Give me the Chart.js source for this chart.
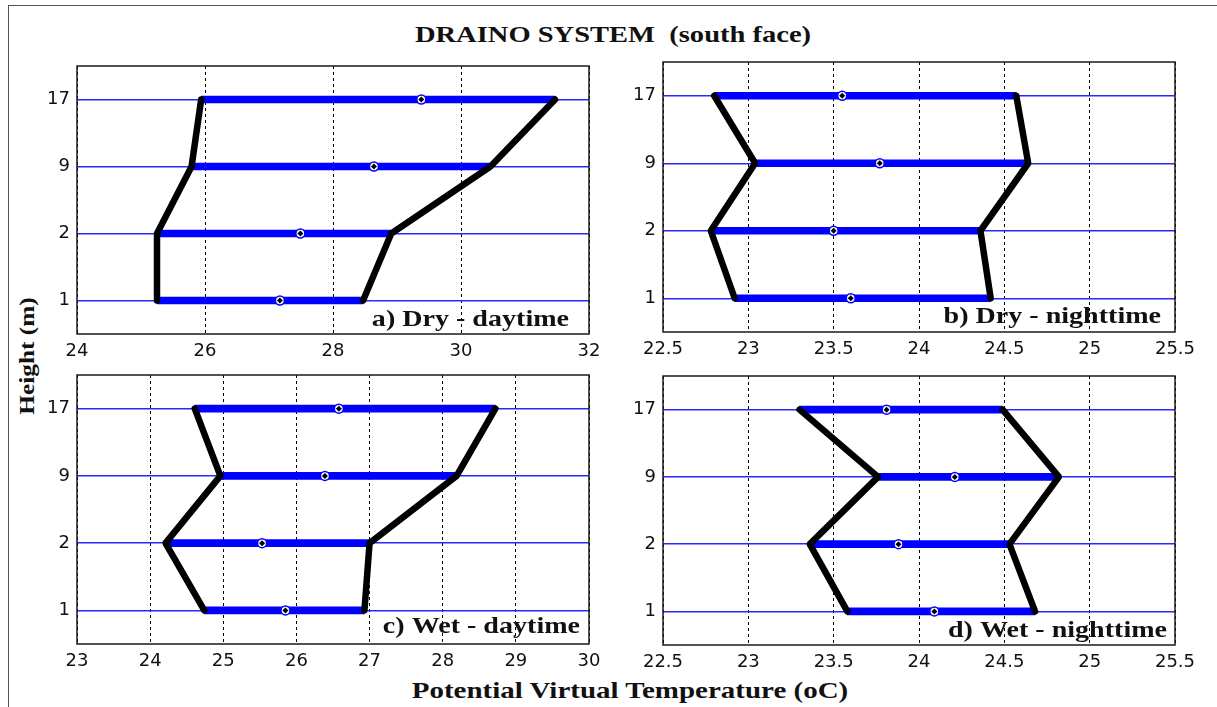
<!DOCTYPE html>
<html>
<head>
<meta charset="utf-8">
<script src="https://cdn.jsdelivr.net/npm/chart.js@4/dist/chart.umd.min.js"></script>
<style>
  body { margin: 0; background: #fff; }
  .page { position: relative; width: 1217px; height: 707px; overflow: hidden; background: #fff; }
  .frame { position: absolute; left: 8px; top: 5px; width: 1300px; height: 800px; border-left: 1px solid #555; border-top: 1px solid #555; }
  .panel { position: absolute; }
  .txt { position: absolute; font-family: "Liberation Serif", "Times New Roman", serif; font-weight: bold; color: #111; white-space: nowrap; text-align: center; }
</style>
</head>
<body>
<div class="page">
  <div class="frame"></div>
  <div class="txt" style="left:413px; width:400px; top:23px; font-size:23px; line-height:23px; transform:scaleX(1.24);">DRAINO SYSTEM&nbsp; (south face)</div>
  <div class="txt" style="left:-43px; top:344px; width:140px; height:24px; font-size:22px; line-height:24px; transform:rotate(-90deg) scaleX(1.15);">Height (m)</div>
  <div class="txt" style="left:380px; width:500px; top:679px; font-size:23px; line-height:23px; transform:scaleX(1.26);">Potential Virtual Temperature (oC)</div>
  <div class="panel" style="left:27px; top:44px; width:596px; height:320px;"><canvas id="chartA"></canvas></div>
  <div class="panel" style="left:613px; top:40px; width:596px; height:322px;"><canvas id="chartB"></canvas></div>
  <div class="panel" style="left:27px; top:353px; width:596px; height:321px;"><canvas id="chartC"></canvas></div>
  <div class="panel" style="left:613px; top:354px; width:596px; height:321px;"><canvas id="chartD"></canvas></div>
</div>
<script>
// heights of the sensors (m), bottom to top
const heights = ['1', '2', '9', '17'];

// a) Dry - daytime
const dryDayMin = [25.25, 25.25, 25.79, 25.94];
const dryDayMax = [28.47, 28.91, 30.46, 31.47];
const dryDayMean = [27.17, 27.49, 28.64, 29.38];

// b) Dry - nighttime
const dryNightMin = [22.92, 22.78, 23.04, 22.80];
const dryNightMax = [24.42, 24.36, 24.64, 24.57];
const dryNightMean = [23.60, 23.50, 23.77, 23.55];

// c) Wet - daytime
const wetDayMin = [24.74, 24.21, 24.96, 24.61];
const wetDayMax = [26.93, 27.00, 28.19, 28.72];
const wetDayMean = [25.85, 25.53, 26.39, 26.58];

// d) Wet - nighttime
const wetNightMin = [23.58, 23.36, 23.76, 23.30];
const wetNightMax = [24.68, 24.53, 24.82, 24.49];
const wetNightMean = [24.09, 23.88, 24.21, 23.81];

// x tick labels
const ticksDryDay = [24, 26, 28, 30, 32];
const ticksWetDay = [23, 24, 25, 26, 27, 28, 29, 30];
const ticksNight = [22.5, 23, 23.5, 24, 24.5, 25, 25.5];

const blue = 'rgb(0,0,255)';
const gridBlue = 'rgb(40,40,255)';

// frame round the plot area + panel caption
const panelPlugin = {
    id: 'panelPlugin',
    afterDatasetsDraw(chart, args, opts) {
        const { ctx, chartArea } = chart;
        ctx.save();
        ctx.font = 'bold 23px "Liberation Serif"';
        ctx.fillStyle = '#111';
        ctx.textAlign = 'right';
        ctx.textBaseline = 'alphabetic';
        ctx.translate(chartArea.right - opts.dx, chartArea.bottom - opts.dy);
        ctx.scale(1.22, 1);
        ctx.fillText(opts.text, 0, 0);
        ctx.restore();
    },
    afterDraw(chart) {
        const { ctx, chartArea } = chart;
        ctx.save();
        ctx.strokeStyle = '#1a1a1a';
        ctx.lineWidth = 1.5;
        ctx.strokeRect(chartArea.left, chartArea.top, chartArea.right - chartArea.left, chartArea.bottom - chartArea.top);
        ctx.restore();
    }
};

function points(values) {
    return heights.map((h, i) => ({ x: values[i], y: h }));
}

function makePanel(id, min, max, mean, xTicks, caption, dx, dy) {
    const profile = {
        type: 'line',
        borderColor: '#000',
        borderWidth: 6.5,
        borderCapStyle: 'round',
        borderJoinStyle: 'round',
        pointRadius: 0,
        tension: 0,
        order: 2
    };
    const tickFont = { family: '"DejaVu Sans"', size: 18 };

    new Chart(document.getElementById(id), {
        type: 'bar',
        data: {
            labels: heights,
            datasets: [
                {
                    type: 'line',
                    data: points(mean),
                    showLine: false,
                    pointStyle: 'rectRot',
                    pointRadius: 3,
                    pointBackgroundColor: '#000',
                    pointBorderWidth: 0,
                    order: 0
                },
                {
                    type: 'line',
                    data: points(mean),
                    showLine: false,
                    pointRadius: 4.5,
                    pointBackgroundColor: '#fff',
                    pointBorderColor: blue,
                    pointBorderWidth: 1.5,
                    order: 1
                },
                Object.assign({ data: points(min) }, profile),
                Object.assign({ data: points(max) }, profile),
                {
                    data: min.map((m, i) => [m, max[i]]),
                    backgroundColor: blue,
                    borderWidth: 0,
                    barThickness: 7,
                    order: 3
                }
            ]
        },
        options: {
            indexAxis: 'y',
            responsive: true,
            maintainAspectRatio: false,
            animation: false,
            layout: { padding: { left: 0, top: 22, right: 34, bottom: 0 } },
            plugins: {
                legend: { display: false },
                tooltip: { enabled: false },
                panelPlugin: { text: caption, dx: dx, dy: dy }
            },
            scales: {
                x: {
                    type: 'linear',
                    min: xTicks[0],
                    max: xTicks[xTicks.length - 1],
                    afterBuildTicks: s => { s.ticks = xTicks.map(v => ({ value: v })); },
                    afterFit: s => { s.height = 30; },
                    grid: { color: '#000', lineWidth: 1, drawTicks: false },
                    border: { display: false, dash: [3, 3] },
                    ticks: {
                        padding: 7,
                        color: '#111',
                        font: tickFont,
                        callback: v => String(v)
                    }
                },
                y: {
                    type: 'category',
                    reverse: true,
                    afterFit: s => { s.width = 50; },
                    grid: { color: gridBlue, lineWidth: 1.5, offset: false, drawTicks: false },
                    border: { display: false },
                    ticks: {
                        padding: 7,
                        color: '#111',
                        font: tickFont
                    }
                }
            }
        },
        plugins: [panelPlugin]
    });
}

makePanel('chartA', dryDayMin, dryDayMax, dryDayMean, ticksDryDay, 'a) Dry - daytime', 20, 8);
makePanel('chartB', dryNightMin, dryNightMax, dryNightMean, ticksNight, 'b) Dry - nighttime', 14, 9);
makePanel('chartC', wetDayMin, wetDayMax, wetDayMean, ticksWetDay, 'c) Wet - daytime', 9, 11);
makePanel('chartD', wetNightMin, wetNightMax, wetNightMean, ticksNight, 'd) Wet - nighttime', 8, 8);
</script>
</body>
</html>
